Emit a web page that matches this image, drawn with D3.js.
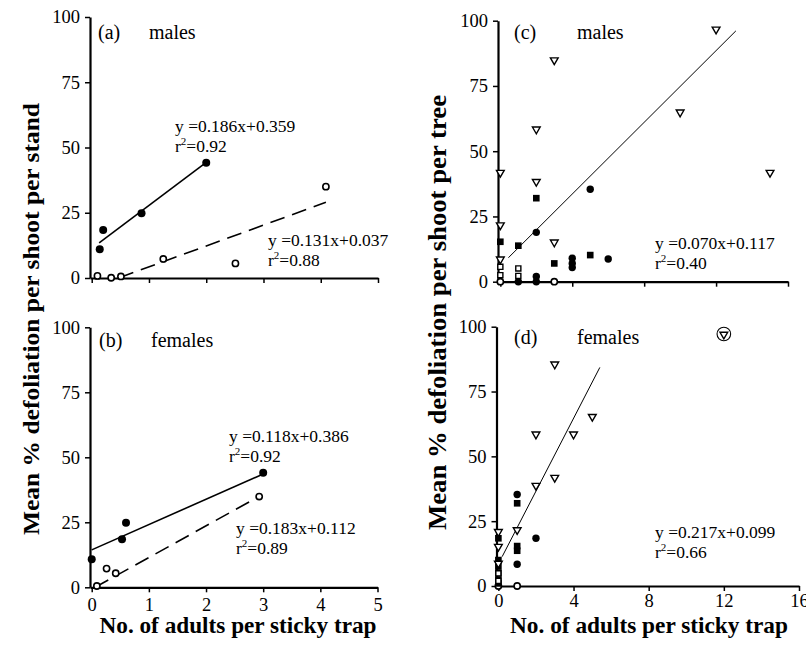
<!DOCTYPE html>
<html>
<head>
<meta charset="utf-8">
<script src="https://cdn.jsdelivr.net/npm/d3@7"></script>
<style>
body{margin:0;background:#fff}
svg{display:block}
text{font-family:"Liberation Serif","Times New Roman",serif;fill:#000}
</style>
</head>
<body>
<div id="chart"></div>
<script>
// ticks
const yTicks = [0, 25, 50, 75, 100]
const xTicksStand = [0, 1, 2, 3, 4, 5]
const xTicksTree = [0, 4, 8, 12, 16]

// (a) males, per stand  [adults per trap, % defoliation]
const aFilled = [[0.14, 11.0], [0.2, 18.4], [0.87, 24.8], [2.0, 44.2]]
const aOpen = [[0.1, 0.8], [0.34, 0.1], [0.51, 0.6], [1.25, 7.3], [2.51, 5.6], [4.09, 35.0]]
const aFitFilled = [[0.13, 13.5], [2.0, 44.3]]
const aFitOpen = [[0.48, 0.1], [4.09, 29.0]]

// (b) females, per stand
const bFilled = [[0.0, 10.8], [0.53, 18.5], [0.6, 24.8], [3.0, 44.1]]
const bOpen = [[0.09, 0.5], [0.26, 7.2], [0.42, 5.4], [2.93, 34.9]]
const bFitFilled = [[0.0, 14.4], [3.0, 43.6]]
const bFitOpen = [[0.06, 0.0], [2.9, 34.6]]

// (c) males, per tree
const cTriangles = [[0, 41.8], [0, 21.7], [0, 8.6], [2, 58.4], [2, 38.3], [3, 84.9], [3, 15.1], [10, 64.9], [12, 96.7], [15, 41.8]]
const cSquaresFilled = [[0, 15.3], [1, 13.8], [2, 32.0], [3, 7.0], [5, 10.2]]
const cCirclesFilled = [[2, 18.9], [2, 2.0], [2, 0], [1, 0], [4, 9.0], [4, 7.0], [4, 5.4], [5, 35.4], [6, 8.7]]
const cSquaresOpen = [[0, 5.7], [0, 2.5], [1, 5.1], [1, 2.2]]
const cCirclesOpen = [[0, 0], [3, 0]]
const cFit = [[0.45, 9.2], [13.1, 96.1]]

// (d) females, per tree
const dTriangles = [[0, 20.9], [0, 15.2], [0, 8.7], [1, 21.6], [2, 58.5], [2, 38.7], [3, 85.5], [3, 41.8], [4, 58.5], [5, 65.3], [12, 97.0]]
const dSquaresFilled = [[0, 18.4], [0, 10.0], [0, 7.5], [0, 5.0], [0, 2.5], [0, 1.0], [1, 31.9], [1, 15.4], [1, 13.6]]
const dCirclesFilled = [[1, 35.3], [1, 8.4], [2, 18.4]]
const dSquaresOpen = [[0, 4.9], [0, 2.0]]
const dCirclesOpen = [[0, 0], [1, 0]]
const dFit = [[0.2, 11.3], [5.4, 84.3]]
const dOutlier = [[12, 97.0]]

const W = 806, H = 647
const SERIF = '"Liberation Serif","Times New Roman",serif'
const svg = d3.select("#chart").append("svg").attr("width", W).attr("height", H)

const sym = {
	tri: d3.symbol(d3.symbolTriangle, 26)(),
	sqF: d3.symbol(d3.symbolSquare, 44)(),
	sqO: d3.symbol(d3.symbolSquare, 26)()
}

function panel(p) {
	const x = d3.scaleLinear().domain(p.xd).range(p.xr)
	const y = d3.scaleLinear().domain([0, 100]).range(p.yr)
	const g = svg.append("g")

	const xa = d3.axisBottom(x).tickValues(p.xticks).tickSize(5).tickSizeOuter(0).tickPadding(p.xpad)
		.tickFormat(p.xlabels ? d3.format("d") : "")
	const gx = g.append("g").attr("transform", "translate(0," + y(0) + ")").call(xa)
	const gy = g.append("g").attr("transform", "translate(" + p.xr[0] + ",0)")
		.call(d3.axisLeft(y).tickValues(yTicks).tickSize(5).tickSizeOuter(0).tickPadding(p.ypad).tickFormat(d3.format("d")))
	;[gx, gy].forEach(a => {
		a.attr("font-family", null)
		a.select(".domain").attr("stroke", "#000").attr("stroke-width", 2.2)
		a.selectAll(".tick line").attr("stroke", "#000").attr("stroke-width", 1.5)
		a.selectAll(".tick text").style("font-family", SERIF).style("font-size", "18.5px").attr("fill", "#000")
	})

	const line = d3.line().x(d => x(d[0])).y(d => y(d[1]))
	;(p.fits || []).forEach(f => {
		g.append("path").attr("d", line(f.data)).attr("fill", "none").attr("stroke", "#000")
			.attr("stroke-width", f.w).attr("stroke-dasharray", f.dash || null)
	})

	const pts = (data, kind) => {
		const s = g.append("g").selectAll(null).data(data).enter()
		if (kind == "cF") s.append("circle").attr("cx", d => x(d[0])).attr("cy", d => y(d[1])).attr("r", p.rF).attr("fill", "#000")
		if (kind == "cO") s.append("circle").attr("cx", d => x(d[0])).attr("cy", d => y(d[1])).attr("r", 3.1)
			.attr("fill", "#fff").attr("stroke", "#000").attr("stroke-width", 1.6)
		if (kind == "tri") s.append("path").attr("d", sym.tri)
			.attr("transform", d => "translate(" + x(d[0]) + "," + y(d[1]) + ") rotate(180)")
			.attr("fill", "#fff").attr("stroke", "#000").attr("stroke-width", 1.4)
		if (kind == "sqF") s.append("path").attr("d", sym.sqF)
			.attr("transform", d => "translate(" + x(d[0]) + "," + y(d[1]) + ")").attr("fill", "#000")
		if (kind == "sqO") s.append("path").attr("d", sym.sqO)
			.attr("transform", d => "translate(" + x(d[0]) + "," + y(d[1]) + ")")
			.attr("fill", "#fff").attr("stroke", "#000").attr("stroke-width", 1.4)
		if (kind == "ring") s.append("circle").attr("cx", d => x(d[0])).attr("cy", d => y(d[1]) - 0.5).attr("r", 6.8)
			.attr("fill", "none").attr("stroke", "#000").attr("stroke-width", 1.1)
	}
	p.series.forEach(s => pts(s[0], s[1]))

	g.append("text").attr("x", p.tag[0]).attr("y", p.tag[1]).attr("font-size", 20).text(p.tag[2])
	g.append("text").attr("x", p.tag[3]).attr("y", p.tag[1]).attr("font-size", 20).text(p.tag[4])

	p.eqs.forEach(e => {
		g.append("text").attr("x", e[0]).attr("y", e[1]).attr("font-size", 17.5).text(e[2])
		const t = g.append("text").attr("x", e[0]).attr("y", e[1] + 20).attr("font-size", 17.5)
		t.append("tspan").text("r")
		t.append("tspan").attr("dy", -7).attr("font-size", 11).text("2")
		t.append("tspan").attr("dy", 7).text("=" + e[3])
	})
}

panel({
	xd: [-0.03, 5], xr: [90, 378], yr: [278, 17], xticks: xTicksStand, xlabels: false, xpad: 5, ypad: 5, rF: 4,
	fits: [{data: aFitFilled, w: 1.6}, {data: aFitOpen, w: 1.6, dash: "15,8"}],
	series: [[aFilled, "cF"], [aOpen, "cO"]],
	tag: [98, 39, "(a)", 149, "males"],
	eqs: [[175, 131.5, "y =0.186x+0.359", "0.92"], [268, 246, "y =0.131x+0.037", "0.88"]]
})
panel({
	xd: [-0.03, 5], xr: [90, 377.5], yr: [587.3, 327.3], xticks: xTicksStand, xlabels: true, xpad: 6, ypad: 5, rF: 4,
	fits: [{data: bFitFilled, w: 1.6}, {data: bFitOpen, w: 1.6, dash: "15,8"}],
	series: [[bFilled, "cF"], [bOpen, "cO"]],
	tag: [99, 347, "(b)", 151, "females"],
	eqs: [[229, 442, "y =0.118x+0.386", "0.92"], [236, 534, "y =0.183x+0.112", "0.89"]]
})
panel({
	xd: [-0.13, 16], xr: [498, 788], yr: [281.7, 20.7], xticks: xTicksTree, xlabels: false, xpad: 5, ypad: 5, rF: 3.7,
	fits: [{data: cFit, w: 1}],
	series: [[cCirclesOpen, "cO"], [cSquaresOpen, "sqO"], [cSquaresFilled, "sqF"], [cCirclesFilled, "cF"], [cTriangles, "tri"]],
	tag: [514, 39, "(c)", 577, "males"],
	eqs: [[655, 249, "y =0.070x+0.117", "0.40"]]
})
panel({
	xd: [-0.1, 16], xr: [496.5, 799], yr: [586, 326.7], xticks: xTicksTree, xlabels: true, xpad: 3, ypad: 5, rF: 3.7,
	fits: [{data: dFit, w: 1}],
	series: [[dCirclesOpen, "cO"], [dSquaresFilled, "sqF"], [dSquaresOpen, "sqO"], [dCirclesFilled, "cF"], [dTriangles, "tri"], [dOutlier, "ring"]],
	tag: [514, 344, "(d)", 577, "females"],
	eqs: [[655, 538, "y =0.217x+0.099", "0.66"]]
})

// axis titles
const title = (x, y, rot, s, len, fs) => svg.append("text")
	.attr("transform", "translate(" + x + "," + y + ")" + (rot ? " rotate(-90)" : ""))
	.attr("text-anchor", "middle").attr("font-size", fs).attr("font-weight", "bold")
	.attr("textLength", len).attr("lengthAdjust", "spacingAndGlyphs").text(s)
title(39, 319, true, "Mean % defoliation per shoot per stand", 432, 24)
title(446, 312.5, true, "Mean % defoliation per shoot per tree", 435, 25)
title(238, 633, false, "No. of adults per sticky trap", 277, 23)
title(649, 633, false, "No. of adults per sticky trap", 278, 23)
</script>
</body>
</html>
